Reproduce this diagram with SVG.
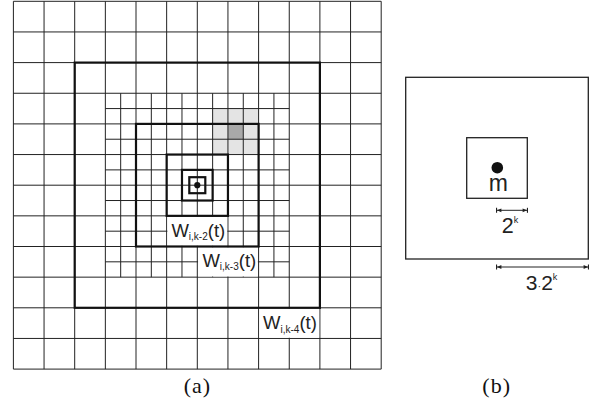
<svg xmlns="http://www.w3.org/2000/svg" width="609" height="405" viewBox="0 0 609 405">
<style>
.grid{fill:none;stroke:#222;stroke-width:1}
.thick{fill:none;stroke:#111;stroke-width:2.2}
.mask{fill:#fff;stroke:none}
.wl{font-family:"Liberation Sans",Arial,sans-serif;font-size:18.5px;fill:#222}
.sub{font-size:10px}
.cap{font-family:"Liberation Serif","Times New Roman",serif;font-size:22px;fill:#111;text-anchor:middle;letter-spacing:1px}
.box{fill:none;stroke:#222;stroke-width:1.3}
.dim{stroke:#222;stroke-width:1;fill:none}
.bt{font-family:"Liberation Sans",Arial,sans-serif;fill:#222}
</style>
<defs>
<marker id="dimEnd" viewBox="0 0 7 7" refX="6.6" refY="3.5" markerWidth="7" markerHeight="7" markerUnits="userSpaceOnUse" orient="auto-start-reverse">
<path d="M1.6 1.6 L6 3.5 L1.6 5.4 Z" fill="#222"/>
<rect x="5.9" y="1" width="1.1" height="5" fill="#222"/>
</marker>
</defs>
<rect width="609" height="405" fill="#fff"/>
<g id="panel-a">
<g id="highlight">
<rect x="212.625" y="108.575" width="45.975" height="45.975" fill="#e4e4e4"/>
<rect x="227.95" y="123.9" width="15.325" height="15.325" fill="#a9a9a9"/>
</g>
<g id="grid">
<path class="grid" d="M13.4 1.3V369.1M44.05 1.3V369.1M74.7 1.3V369.1M105.35 1.3V369.1M136 1.3V369.1M166.65 1.3V369.1M197.3 1.3V369.1M227.95 1.3V369.1M258.6 1.3V369.1M289.25 1.3V369.1M319.9 1.3V369.1M350.55 1.3V369.1M381.2 1.3V369.1"/>
<path class="grid" d="M13.4 1.3H381.2M13.4 31.95H381.2M13.4 62.6H381.2M13.4 93.25H381.2M13.4 123.9H381.2M13.4 154.55H381.2M13.4 185.2H381.2M13.4 215.85H381.2M13.4 246.5H381.2M13.4 277.15H381.2M13.4 307.8H381.2M13.4 338.45H381.2M13.4 369.1H381.2"/>
<path class="grid" d="M120.675 93.25V277.15M151.325 93.25V277.15M181.975 93.25V277.15M212.625 93.25V277.15M243.275 93.25V277.15M273.925 93.25V277.15"/>
<path class="grid" d="M105.35 108.575H289.25M105.35 139.225H289.25M105.35 169.875H289.25M105.35 200.525H289.25M105.35 231.175H289.25M105.35 261.825H289.25"/>
</g>
<g id="label-masks">
<rect class="mask" x="167.4" y="216.6" width="59.8" height="29.2"/>
<rect class="mask" x="198.05" y="247.25" width="59.8" height="29.2"/>
<rect class="mask" x="259.35" y="308.55" width="59.8" height="29.2"/>
</g>
<g id="w-k4"><rect class="thick" x="74.7" y="62.6" width="245.2" height="245.2"/></g>
<g id="w-k3"><rect class="thick" x="136" y="123.9" width="122.6" height="122.6"/></g>
<g id="w-k2"><rect class="thick" x="166.65" y="154.55" width="61.3" height="61.3"/></g>
<g id="w-k1"><rect class="thick" x="181.975" y="169.875" width="30.65" height="30.65"/></g>
<g id="w-k0"><rect class="thick" x="189.3" y="177.2" width="16" height="16"/></g>
<g id="point-a"><circle cx="197.3" cy="185.2" r="3.1" fill="#111"/></g>
<g id="labels-a">
<text class="wl" x="171.4" y="236.7">W<tspan class="sub" dy="3.3">i,k-2</tspan><tspan dy="-3.3">(t)</tspan></text>
<text class="wl" x="202.4" y="266.7">W<tspan class="sub" dy="3.3">i,k-3</tspan><tspan dy="-3.3">(t)</tspan></text>
<text class="wl" x="263" y="329.3">W<tspan class="sub" dy="3.3">i,k-4</tspan><tspan dy="-3.3">(t)</tspan></text>
</g>
<text class="cap" x="197.4" y="393">(a)</text>
</g>
<g id="panel-b">
<g id="outer-square"><rect class="box" x="405.7" y="77.3" width="182.6" height="181.7"/></g>
<g id="inner-square"><rect class="box" x="466.7" y="137.7" width="60.6" height="60.6"/></g>
<g id="point-m">
<circle cx="497.3" cy="167.7" r="5.8" fill="#111"/>
<text class="bt" x="498.3" y="190.7" font-size="23" text-anchor="middle">m</text>
</g>
<g id="connectors">
<line class="dim" x1="496.4" y1="210.3" x2="527.6" y2="210.3" marker-start="url(#dimEnd)" marker-end="url(#dimEnd)"/>
<line class="dim" x1="496.4" y1="267" x2="588.6" y2="267" marker-start="url(#dimEnd)" marker-end="url(#dimEnd)"/>
</g>
<text class="bt" x="501.8" y="232.5" font-size="21.5">2<tspan font-size="9" dy="-9.5">k</tspan></text>
<text class="bt" x="525.8" y="289.5" font-size="21">3<tspan font-size="11">·</tspan>2<tspan font-size="9" dy="-9.5">k</tspan></text>
<text class="cap" x="496.7" y="393">(b)</text>
</g>
</svg>
